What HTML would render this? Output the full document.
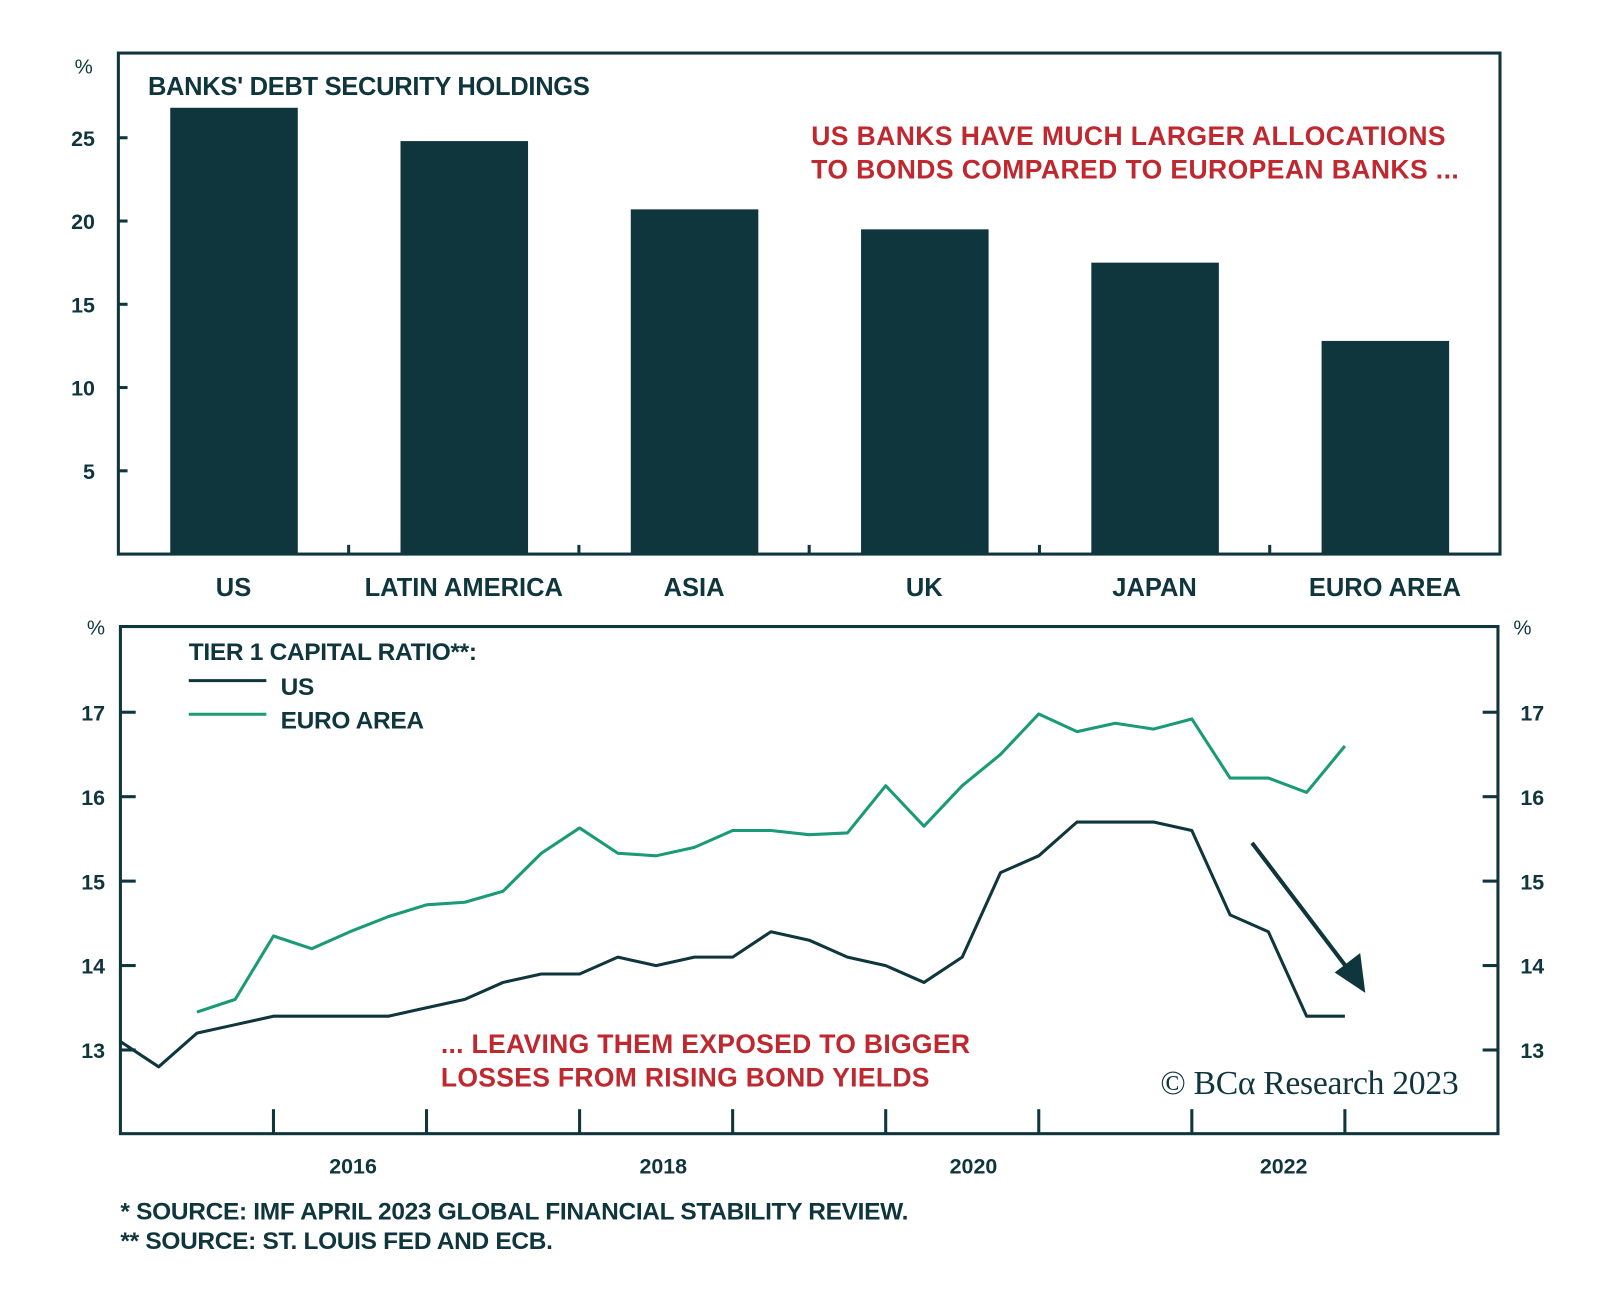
<!DOCTYPE html>
<html><head><meta charset="utf-8">
<style>
html,body{margin:0;padding:0;background:#fff;}
svg{display:block;font-family:"Liberation Sans",sans-serif;}
</style></head>
<body>
<svg id="c" width="1600" height="1289" viewBox="0 0 1600 1289">
<g transform="scale(1.0204)">
<g id="gtop"></g>
<g id="gbot"></g>
</g>
</svg>
<script>
var barCats = ["US","LATIN AMERICA","ASIA","UK","JAPAN","EURO AREA"];
var barVals = [26.8,24.8,20.7,19.5,17.5,12.8];
var barTicks = [5,10,15,20,25];
var lineTicks = [13,14,15,16,17];
var yearLabels = ["2016","2018","2020","2022"];
var usVals = [13.1,12.8,13.2,13.3,13.4,13.4,13.4,13.4,13.5,13.6,13.8,13.9,13.9,14.1,14.0,14.1,14.1,14.4,14.3,14.1,14.0,13.8,14.1,15.1,15.3,15.7,15.7,15.7,15.6,14.6,14.4,13.4,13.4];
var euroVals = [null,null,13.45,13.6,14.35,14.2,14.4,14.58,14.72,14.75,14.88,15.33,15.63,15.33,15.3,15.4,15.6,15.6,15.55,15.57,16.13,15.65,16.13,16.5,16.98,16.77,16.87,16.8,16.92,16.22,16.22,16.05,16.6];

var NS="http://www.w3.org/2000/svg";
var DK="#10363d", GR="#1a9a76", RD="#c0282f";
function mk(parent,tag,attrs,text){var e=document.createElementNS(NS,tag);for(var k in attrs)e.setAttribute(k,attrs[k]);if(text!=null)e.textContent=text;parent.appendChild(e);return e;}

// ---------- top bar chart ----------
var gTop=document.getElementById('gtop');
var TL=116,TR=1470,TT=52,TB=543;
function yb(v){return TB-(v/25)*(TB-135);}
var bw=(TR-TL)/barCats.length;
var f=mk(gTop,'rect',{x:TL,y:TT,width:TR-TL,height:TB-TT,fill:'none',stroke:DK,'stroke-width':3});


var t=mk(gTop,'text',{x:82,y:72,'font-size':20,fill:DK,'text-anchor':'middle'},'%');


barTicks.forEach(function(v){
  var y=yb(v);
  var l=mk(gTop,'line',{x1:TL,x2:TL+9,y1:y,y2:y,stroke:DK,'stroke-width':3});
  
  
  var tx=mk(gTop,'text',{x:93,y:y+8,'font-size':21,'font-weight':'bold',fill:DK,'text-anchor':'end'},String(v));
  
  
});
barCats.forEach(function(c,i){
  var cx=TL+bw*(i+0.5);
  var r=mk(gTop,'rect',{x:cx-62,y:yb(barVals[i]),width:125,height:TB-yb(barVals[i]),fill:DK});
  
  
  var tx=mk(gTop,'text',{x:cx,y:584,'font-size':25,fill:DK,'text-anchor':'middle','font-weight':'bold','letter-spacing':'0'},c);
  
  
  if(i>0){
    var l=mk(gTop,'line',{x1:TL+bw*i,x2:TL+bw*i,y1:TB,y2:TB-9,stroke:DK,'stroke-width':3});
    
    
  }
});
var tt=mk(gTop,'text',{x:145,y:93,'font-size':25,'font-weight':'bold',fill:DK,'letter-spacing':'-0.3'},"BANKS' DEBT SECURITY HOLDINGS");


var a1=mk(gTop,'text',{x:795,y:142,'font-size':26,'font-weight':'bold',fill:RD,'letter-spacing':'0.4'},'US BANKS HAVE MUCH LARGER ALLOCATIONS');


var a2=mk(gTop,'text',{x:795,y:175,'font-size':26,'font-weight':'bold',fill:RD,'letter-spacing':'0.4'},'TO BONDS COMPARED TO EUROPEAN BANKS ...');



// ---------- bottom line chart ----------
var gBot=document.getElementById('gbot');
var BL=118,BR=1468,BT=614,BB=1111;
function yl(v){return 1029-(v-13)*82.75;}
function xq(i){return BL+37.5*i;}
var f2=mk(gBot,'rect',{x:BL,y:BT,width:BR-BL,height:BB-BT,fill:'none',stroke:DK,'stroke-width':3});


var u1=mk(gBot,'text',{x:94,y:622,'font-size':20,fill:DK,'text-anchor':'middle'},'%');


var u2=mk(gBot,'text',{x:1492,y:622,'font-size':20,fill:DK,'text-anchor':'middle'},'%');


lineTicks.forEach(function(v){
  var y=yl(v);
  var l=mk(gBot,'line',{x1:BL,x2:BL+15,y1:y,y2:y,stroke:DK,'stroke-width':3});
  
  
  var r=mk(gBot,'line',{x1:BR-15,x2:BR,y1:y,y2:y,stroke:DK,'stroke-width':3});
  
  
  var a=mk(gBot,'text',{x:103,y:y+8,'font-size':21,'font-weight':'bold',fill:DK,'text-anchor':'end'},String(v));
  
  
  var b=mk(gBot,'text',{x:1490,y:y+8,'font-size':21,'font-weight':'bold',fill:DK},String(v));
  
  
});
for(var k=1;k<=8;k++){
  var x=BL+150*k;
  var l=mk(gBot,'line',{x1:x,x2:x,y1:BB,y2:BB-24,stroke:DK,'stroke-width':3});
  
  
}
yearLabels.forEach(function(s,i){
  var x=346+304*i;
  var tx=mk(gBot,'text',{x:x,y:1150,'font-size':21,'font-weight':'bold',fill:DK,'text-anchor':'middle'},s);
  
  
});
function path(vals){var d='';vals.forEach(function(v,i){if(v==null)return;d+=(d?'L':'M')+xq(i).toFixed(1)+','+yl(v).toFixed(1);});return d;}
var pe=mk(gBot,'path',{d:path(euroVals),fill:'none',stroke:GR,'stroke-width':3,'stroke-linejoin':'round'});


var pu=mk(gBot,'path',{d:path(usVals),fill:'none',stroke:DK,'stroke-width':3,'stroke-linejoin':'round'});


var ar=mk(gBot,'line',{x1:1227,y1:826,x2:1322,y2:951,stroke:DK,'stroke-width':4});


var ah=mk(gBot,'polygon',{points:'1338,973 1308,953 1333,934',fill:DK});


var lt=mk(gBot,'text',{x:185,y:647,'font-size':24,'font-weight':'bold',fill:DK,'letter-spacing':'-0.3'},'TIER 1 CAPITAL RATIO**:');


var l1=mk(gBot,'line',{x1:185,x2:261,y1:667,y2:667,stroke:DK,'stroke-width':3});


var l1t=mk(gBot,'text',{x:275,y:681,'font-size':24,'font-weight':'bold',fill:DK,'letter-spacing':'-0.3'},'US');


var l2=mk(gBot,'line',{x1:185,x2:261,y1:700,y2:700,stroke:GR,'stroke-width':3});


var l2t=mk(gBot,'text',{x:275,y:714,'font-size':24,'font-weight':'bold',fill:DK,'letter-spacing':'-0.3'},'EURO AREA');


var r1=mk(gBot,'text',{x:432,y:1032,'font-size':26,'font-weight':'bold',fill:RD,'letter-spacing':'0.3'},'... LEAVING THEM EXPOSED TO BIGGER');


var r2=mk(gBot,'text',{x:432,y:1065,'font-size':26,'font-weight':'bold',fill:RD,'letter-spacing':'0.3'},'LOSSES FROM RISING BOND YIELDS');


var lg=mk(gBot,'text',{x:1137,y:1072,'font-size':33,fill:DK,'font-family':'"Liberation Serif",serif','letter-spacing':'-0.3'},'© BCα Research 2023');


var fn1=mk(gBot,'text',{x:118,y:1195,'font-size':24,'font-weight':'bold',fill:DK,'letter-spacing':'-0.3'},'*  SOURCE: IMF APRIL 2023 GLOBAL FINANCIAL STABILITY REVIEW.');


var fn2=mk(gBot,'text',{x:118,y:1224,'font-size':24,'font-weight':'bold',fill:DK,'letter-spacing':'-0.3'},'** SOURCE: ST. LOUIS FED AND ECB.');


</script>
</body></html>
